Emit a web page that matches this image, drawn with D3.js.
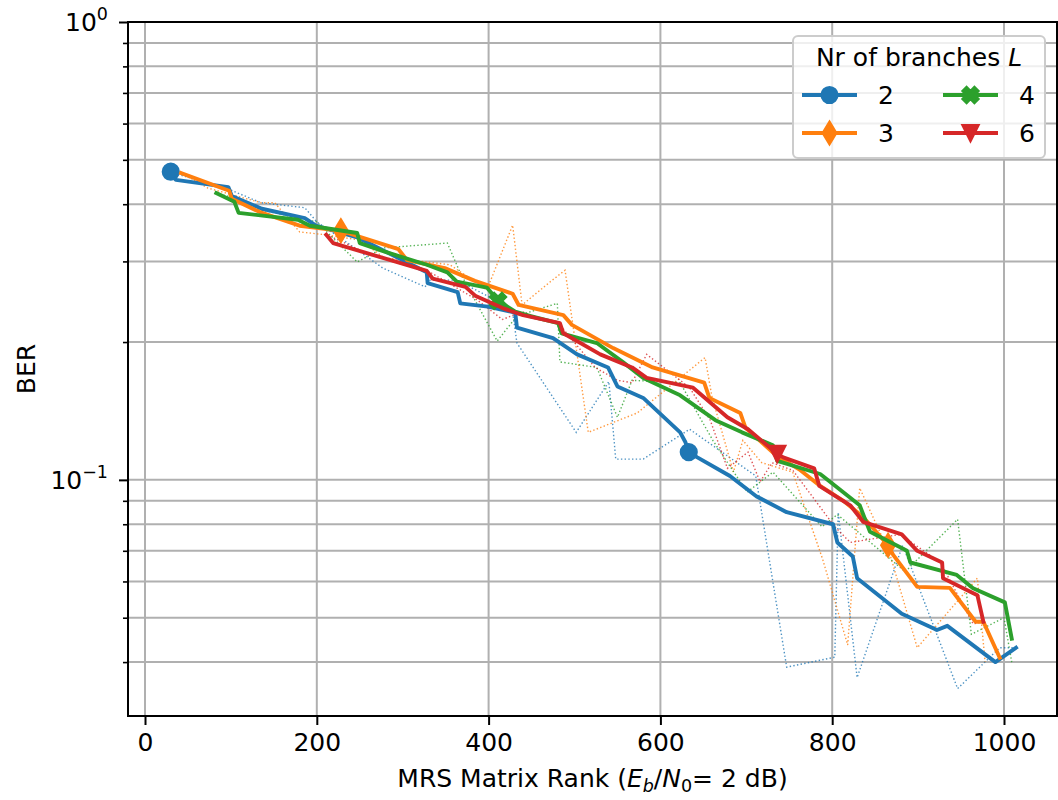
<!DOCTYPE html>
<html><head><meta charset="utf-8">
<script src="https://cdn.jsdelivr.net/npm/d3@7"></script>
<style>
body{margin:0;background:#fff}
svg{display:block}
text{font-family:"DejaVu Sans",sans-serif;fill:#000}
</style>
</head><body>
<svg id="chart" width="1058" height="800"></svg>
<script>
// ---------------- data ----------------
const xTicks=[0,200,400,600,800,1000];
const xTickLabels=["0","200","400","600","800","1000"];
const yMajorTicks=[0.1,1];
const yMajorLabels=[["10","\u22121"],["10","0"]];
const yMinorTicks=[0.04,0.05,0.06,0.07,0.08,0.09,0.2,0.3,0.4,0.5,0.6,0.7,0.8,0.9];
const seriesNames=["2","3","4","6"];
const colors=["#1f77b4","#ff7f0e","#2ca02c","#d62728"];
const markerShapes=["circle","thinDiamond","xFilled","triangleDown"];

// smoothed (solid) curves
const blueX=[30,36,97,101,136,186,199,248,328,329,364,367,399,431,433,475,503,539,550,580,623,629,633,643,681,712,747,801,806,824,829,881,922,934,990,1014];
const blueY=[0.471,0.452,0.436,0.417,0.391,0.373,0.359,0.338,0.284,0.269,0.257,0.243,0.239,0.232,0.215,0.204,0.188,0.176,0.160,0.151,0.127,0.121,0.115,0.112,0.102,0.092,0.085,0.080,0.073,0.068,0.061,0.051,0.047,0.048,0.040,0.043];
const orangeX=[42,98,101,133,180,228,262,295,305,349,384,428,435,487,497,545,591,651,657,693,699,735,763,786,813,836,865,871,899,937,967,976,995];
const orangeY=[0.468,0.428,0.411,0.385,0.359,0.350,0.334,0.319,0.302,0.290,0.272,0.255,0.241,0.229,0.218,0.194,0.176,0.163,0.151,0.140,0.130,0.113,0.105,0.097,0.090,0.083,0.072,0.0686,0.0584,0.0581,0.049,0.049,0.0409];
const greenX=[83,104,109,178,192,247,250,279,328,352,363,398,411,431,448,481,485,526,556,580,623,664,695,731,736,786,789,832,844,887,891,945,964,1001,1009];
const greenY=[0.423,0.405,0.383,0.370,0.359,0.346,0.329,0.315,0.295,0.284,0.271,0.263,0.246,0.233,0.228,0.220,0.209,0.199,0.181,0.167,0.153,0.135,0.127,0.119,0.110,0.103,0.102,0.088,0.077,0.070,0.066,0.062,0.058,0.054,0.045];
const redX=[211,219,328,335,373,385,417,440,483,487,530,567,584,638,678,702,736,743,779,785,821,836,881,899,928,929,969,976];
const redY=[0.343,0.329,0.286,0.275,0.264,0.252,0.237,0.229,0.220,0.209,0.188,0.176,0.167,0.159,0.137,0.129,0.114,0.112,0.106,0.097,0.088,0.081,0.076,0.070,0.066,0.061,0.056,0.049];

// raw (dotted) curves
const blueRawX=[30,99,135,186,200,239,277,326,332,363,399,428,433,502,540,548,580,634,711,747,803,807,829,882,946,995,1014];
const blueRawY=[0.470,0.430,0.403,0.393,0.366,0.326,0.290,0.264,0.273,0.273,0.252,0.232,0.199,0.127,0.164,0.111,0.111,0.129,0.102,0.039,0.041,0.085,0.037,0.072,0.035,0.043,0.043];
const orangeRawX=[42,73,135,151,180,210,250,279,309,355,398,428,439,472,489,516,573,652,660,685,696,718,754,789,818,832,867,899,969,978];
const orangeRawY=[0.468,0.434,0.403,0.403,0.348,0.343,0.334,0.305,0.302,0.295,0.260,0.360,0.241,0.271,0.287,0.127,0.140,0.185,0.152,0.104,0.122,0.109,0.104,0.067,0.0436,0.096,0.069,0.043,0.061,0.040];
const greenRawX=[83,99,134,200,247,277,352,367,410,433,480,483,526,550,567,623,661,701,731,788,806,885,946,962,1000,1009];
const greenRawY=[0.423,0.415,0.389,0.366,0.299,0.321,0.329,0.283,0.201,0.228,0.243,0.181,0.176,0.137,0.165,0.163,0.122,0.094,0.104,0.079,0.084,0.063,0.082,0.046,0.050,0.040];
const redRawX=[212,262,332,387,416,439,483,524,550,567,584,634,658,678,702,716,730,754,803,821,879,926,964,976];
const redRawY=[0.343,0.310,0.284,0.247,0.224,0.233,0.218,0.176,0.165,0.163,0.188,0.159,0.135,0.106,0.115,0.099,0.109,0.105,0.079,0.073,0.076,0.066,0.0485,0.049];

// x positions of the points that carry a marker
const blueMarkX=[30,633];
const orangeMarkX=[228,865];
const greenMarkX=[411];
const redMarkX=[736];

// ---------------- chart ----------------
const svg=d3.select("#chart");
const L=128,R=1057,T=22,B=716;
const FS=25;
const x=d3.scaleLinear().domain([-19.8,1061.7]).range([L,R]);
const y=d3.scaleLog().domain([0.0305,1]).range([B,T]);

const zip=(a,b)=>a.map((v,i)=>[v,b[i]]);
const series=[
  {solid:zip(blueX,blueY),raw:zip(blueRawX,blueRawY),marks:blueMarkX},
  {solid:zip(orangeX,orangeY),raw:zip(orangeRawX,orangeRawY),marks:orangeMarkX},
  {solid:zip(greenX,greenY),raw:zip(greenRawX,greenRawY),marks:greenMarkX},
  {solid:zip(redX,redY),raw:zip(redRawX,redRawY),marks:redMarkX}
];

svg.append("rect").attr("width",1058).attr("height",800).attr("fill","#fff");
svg.append("defs").append("clipPath").attr("id","clip")
  .append("rect").attr("x",L).attr("y",T).attr("width",R-L).attr("height",B-T);

// grid
const grid=svg.append("g").attr("stroke","#b0b0b0").attr("stroke-width",2);
grid.selectAll("line.gx").data(xTicks).join("line").attr("class","gx")
  .attr("x1",d=>x(d)).attr("x2",d=>x(d)).attr("y1",T).attr("y2",B);
grid.selectAll("line.gy").data(yMinorTicks.concat(yMajorTicks)).join("line").attr("class","gy")
  .attr("x1",L).attr("x2",R).attr("y1",d=>y(d)).attr("y2",d=>y(d));

// marker shapes (ms = 6pt ~ 15.6px)
const ms=15.6;
function markerPath(shape){
  if(shape==="circle"){const r=ms/2;return `M${r},0A${r},${r} 0 1,1 ${-r},0A${r},${r} 0 1,1 ${r},0Z`;}
  if(shape==="thinDiamond"){const h=ms*0.7071,w=h*0.6;return `M0,${-h}L${w},0L0,${h}L${-w},0Z`;}
  if(shape==="triangleDown"){const s=ms/2;return `M0,${s}L${-s},${-s}L${s},${-s}Z`;}
  if(shape==="xFilled"){
    const pts=[[0.25,0],[0.5,0.25],[0.75,0],[1,0.25],[0.75,0.5],[1,0.75],[0.75,1],[0.5,0.75],[0.25,1],[0,0.75],[0.25,0.5],[0,0.25]];
    return "M"+pts.map(p=>[(p[0]-0.5)*ms,(p[1]-0.5)*ms].join(",")).join("L")+"Z";
  }
}

const plot=svg.append("g").attr("clip-path","url(#clip)");
const line=d3.line().x(d=>x(d[0])).y(d=>y(d[1]));

// dotted raw data
series.forEach((s,i)=>{
  plot.append("path").datum(s.raw).attr("d",line).attr("fill","none")
    .attr("stroke",colors[i]).attr("stroke-width",1.4).attr("stroke-dasharray","1.4,2.3")
    .attr("opacity",0.8);
});
// solid curves + markers
series.forEach((s,i)=>{
  plot.append("path").datum(s.solid).attr("d",line).attr("fill","none")
    .attr("stroke",colors[i]).attr("stroke-width",3.9).attr("stroke-linejoin","round").attr("stroke-linecap","square");
  const mp=s.solid.filter(d=>s.marks.includes(d[0]));
  plot.selectAll(null).data(mp).join("path")
    .attr("transform",d=>`translate(${x(d[0])},${y(d[1])})`)
    .attr("d",markerPath(markerShapes[i]))
    .attr("fill",colors[i]).attr("stroke",colors[i]).attr("stroke-width",2.6).attr("stroke-linejoin","miter");
});

// axes ticks
const xAxis=svg.append("g").attr("transform",`translate(0,${B})`)
  .call(d3.axisBottom(x).tickValues(xTicks).tickFormat((d,i)=>xTickLabels[i])
    .tickSizeInner(9).tickSizeOuter(0).tickPadding(8));
xAxis.select(".domain").remove();
xAxis.selectAll(".tick line").attr("stroke","#000").attr("stroke-width",2);
xAxis.selectAll(".tick text").attr("font-size",FS).attr("font-family","DejaVu Sans").attr("fill","#000");

const yAxisMinor=svg.append("g").attr("transform",`translate(${L},0)`)
  .call(d3.axisLeft(y).tickValues(yMinorTicks).tickSizeInner(5).tickSizeOuter(0).tickFormat(()=>""));
yAxisMinor.select(".domain").remove();
yAxisMinor.selectAll(".tick line").attr("stroke","#000").attr("stroke-width",1.6);

const yAxis=svg.append("g").attr("transform",`translate(${L},0)`)
  .call(d3.axisLeft(y).tickValues(yMajorTicks).tickSizeInner(9).tickSizeOuter(0).tickFormat(()=>""));
yAxis.select(".domain").remove();
yAxis.selectAll(".tick line").attr("stroke","#000").attr("stroke-width",2);
yAxis.selectAll(".tick text").remove();
yMajorTicks.forEach((t,i)=>{
  const tx=svg.append("text").attr("x",L-20).attr("y",y(t)+9).attr("text-anchor","end").attr("font-size",FS);
  tx.append("tspan").text(yMajorLabels[i][0]);
  tx.append("tspan").attr("font-size",FS*0.7).attr("dy",-11).text(yMajorLabels[i][1]);
});

// spines
svg.append("rect").attr("x",L).attr("y",T).attr("width",R-L).attr("height",B-T)
  .attr("fill","none").attr("stroke","#000").attr("stroke-width",2);

// axis labels
const xl=svg.append("text").attr("x",(L+R)/2).attr("y",787).attr("text-anchor","middle").attr("font-size",FS);
xl.append("tspan").text("MRS Matrix Rank (");
xl.append("tspan").attr("font-style","italic").text("E");
xl.append("tspan").attr("font-style","italic").attr("font-size",FS*0.7).attr("dy",5).text("b");
xl.append("tspan").attr("dy",-5).text("/");
xl.append("tspan").attr("font-style","italic").text("N");
xl.append("tspan").attr("font-size",FS*0.7).attr("dy",5).text("0");
xl.append("tspan").attr("dy",-5).text("= 2 dB)");

svg.append("text").attr("transform",`translate(35,${(T+B)/2}) rotate(-90)`)
  .attr("text-anchor","middle").attr("font-size",FS).text("BER");

// legend
const lg=svg.append("g");
lg.append("rect").attr("x",793).attr("y",36).attr("width",252).attr("height",122).attr("rx",5)
  .attr("fill","#fff").attr("fill-opacity",0.8).attr("stroke","#cccccc").attr("stroke-width",2);
const lt=lg.append("text").attr("x",919).attr("y",66).attr("text-anchor","middle").attr("font-size",FS);
lt.append("tspan").text("Nr of branches ");
lt.append("tspan").attr("font-style","italic").text("L");
const legPos=[[802,95],[802,133],[943,95],[943,133]];
seriesNames.forEach((n,i)=>{
  const [lx,ly]=legPos[i];
  lg.append("line").attr("x1",lx).attr("x2",lx+55).attr("y1",ly).attr("y2",ly)
    .attr("stroke",colors[i]).attr("stroke-width",3.9);
  lg.append("path").attr("transform",`translate(${lx+27.5},${ly})`).attr("d",markerPath(markerShapes[i]))
    .attr("fill",colors[i]).attr("stroke",colors[i]).attr("stroke-width",2.6);
  lg.append("text").attr("x",lx+76).attr("y",ly+9).attr("font-size",FS).text(n);
});
</script>
</body></html>
